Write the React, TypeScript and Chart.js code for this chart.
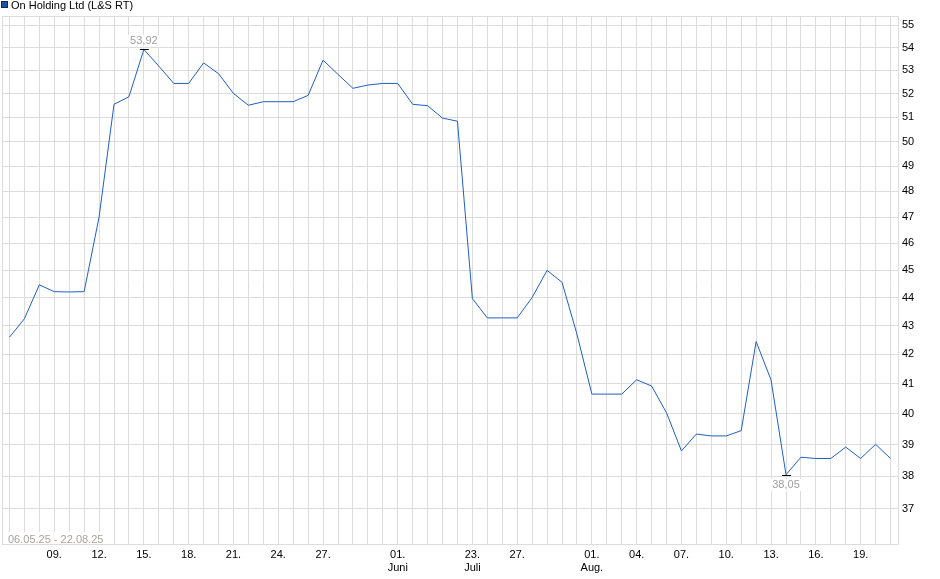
import React, { useEffect, useRef } from "react";
import { Chart, registerables } from "chart.js";

Chart.register(...registerables);

const seriesName = "On Holding Ltd (L&S RT)";
const rangeText = "06.05.25 - 22.08.25";

// one value per trading day shown on the chart
const prices = [
  42.59, 43.24, 44.46, 44.21, 44.2, 44.21, 47.0, 51.55, 51.87, 53.92,
  53.19, 52.44, 52.44, 53.33, 52.86, 52.01, 51.51, 51.66, 51.66, 51.66,
  51.93, 53.45, 52.83, 52.23, 52.37, 52.44, 52.44, 51.55, 51.49, 50.97,
  50.84, 43.96, 43.27, 43.27, 43.27, 44.0, 44.99, 44.55, 42.7, 40.65,
  40.65, 40.65, 41.13, 40.92, 40.03, 38.8, 39.34, 39.28, 39.28, 39.45,
  42.44, 41.12, 38.05, 38.6, 38.56, 38.56, 38.92, 38.56, 39.01, 38.56,
];

// x tick labels and the data index they sit on
const tickAt = [3, 6, 9, 12, 15, 18, 21, 26, 31, 34, 39, 42, 45, 48, 51, 54, 57];
const tickText: (string | string[])[] = [
  "09.", "12.", "15.", "18.", "21.", "24.", "27.", ["01.", "Juni"],
  ["23.", "Juli"], "27.", ["01.", "Aug."], "04.", "07.", "10.", "13.", "16.", "19.",
];

const yTicks = [37, 38, 39, 40, 41, 42, 43, 44, 45, 46, 47, 48, 49, 50, 51, 52, 53, 54, 55];

const FONT = "'Liberation Sans', Arial, sans-serif";
const GRID = "#dcdcdc";

const fmt = (v: number) => v.toFixed(2).replace(".", ",");

const decor = {
  id: "decor",
  beforeDatasetsDraw(chart: any) {
    const { ctx, chartArea: a } = chart;
    ctx.save();
    ctx.strokeStyle = GRID;
    ctx.lineWidth = 1;
    ctx.strokeRect(
      Math.round(a.left) + 0.5,
      Math.round(a.top) + 0.5,
      Math.round(a.right) - Math.round(a.left),
      Math.round(a.bottom) - Math.round(a.top) - 1
    );
    ctx.font = `11px ${FONT}`;
    ctx.textBaseline = "alphabetic";
    ctx.textAlign = "left";
    const w = ctx.measureText(rangeText).width;
    ctx.fillStyle = "#fff";
    ctx.fillRect(a.left + 5, a.bottom - 13, w + 4, 12);
    ctx.fillStyle = "#a9a39b";
    ctx.fillText(rangeText, a.left + 6, a.bottom - 2);
    ctx.restore();
  },
  afterDatasetsDraw(chart: any) {
    const { ctx } = chart;
    const xs = chart.scales.x;
    const ys = chart.scales.y;
    const hi = Math.max(...prices);
    const lo = Math.min(...prices);
    const marks = [
      { i: prices.indexOf(hi), v: hi, dy: -8 },
      { i: prices.indexOf(lo), v: lo, dy: 10 },
    ];
    ctx.save();
    ctx.font = `11px ${FONT}`;
    ctx.textAlign = "center";
    ctx.textBaseline = "middle";
    for (const m of marks) {
      const x = xs.getPixelForValue(m.i);
      const y = Math.round(ys.getPixelForValue(m.v));
      ctx.strokeStyle = "#000";
      ctx.lineWidth = 1;
      ctx.beginPath();
      ctx.moveTo(x - 4, y + 0.5);
      ctx.lineTo(x + 5, y + 0.5);
      ctx.stroke();
      const t = fmt(m.v);
      const w = ctx.measureText(t).width;
      ctx.fillStyle = "#fff";
      ctx.fillRect(x - w / 2 - 2, y + m.dy - 6, w + 4, 12);
      ctx.fillStyle = "#a0a0a0";
      ctx.fillText(t, x, y + m.dy);
    }
    ctx.restore();
  },
  afterDraw(chart: any) {
    const { ctx } = chart;
    ctx.save();
    ctx.fillStyle = "#1f50a6";
    ctx.fillRect(1, 1, 7, 7);
    ctx.strokeStyle = "#0b2a66";
    ctx.lineWidth = 1;
    ctx.strokeRect(1.5, 1.5, 6, 6);
    ctx.font = `11px ${FONT}`;
    ctx.fillStyle = "#000";
    ctx.textAlign = "left";
    ctx.textBaseline = "alphabetic";
    ctx.fillText(seriesName, 11, 9);
    ctx.restore();
  },
};

const App: React.FC = () => {
  const canvasRef = useRef<HTMLCanvasElement>(null);

  useEffect(() => {
    if (!canvasRef.current) return;
    const chart = new Chart(canvasRef.current, {
      type: "line",
      data: {
        labels: prices.map((_, i) => String(i)),
        datasets: [
          {
            label: seriesName,
            data: prices,
            borderColor: "#1f5fc4",
            borderWidth: 1,
            pointRadius: 0,
            tension: 0,
            fill: false,
          },
        ],
      },
      options: {
        animation: false,
        responsive: false,
        devicePixelRatio: 1,
        layout: { padding: { left: 2, top: 16, right: 0, bottom: 0 } },
        plugins: {
          legend: { display: false },
          tooltip: { enabled: false },
        },
        scales: {
          x: {
            type: "category",
            offset: true,
            grid: { offset: false, color: GRID, drawTicks: false },
            border: { display: false },
            ticks: {
              autoSkip: false,
              maxRotation: 0,
              minRotation: 0,
              padding: 3,
              color: "#000",
              font: { family: FONT, size: 11 },
              callback: (_v: any, i: number) => {
                const k = tickAt.indexOf(i);
                return k >= 0 ? tickText[k] : "";
              },
            },
            afterFit: (s: any) => {
              s.height = 34;
            },
          },
          y: {
            type: "logarithmic",
            position: "right",
            bounds: "data",
            min: 35.92,
            max: 55.42,
            grid: { color: GRID, drawTicks: false },
            border: { display: false },
            afterBuildTicks: (s: any) => {
              s.ticks = yTicks.map((v) => ({ value: v }));
            },
            ticks: {
              padding: 4,
              color: "#000",
              font: { family: FONT, size: 11 },
              callback: (v: any) => String(v),
            },
            afterFit: (s: any) => {
              s.width = 42;
            },
          },
        },
      } as any,
      plugins: [decor],
    });
    return () => chart.destroy();
  }, []);

  return (
    <div style={{ position: "fixed", left: 0, top: 0, width: 940, height: 579, background: "#fff" }}>
      <canvas ref={canvasRef} width={940} height={579} style={{ display: "block" }} />
    </div>
  );
};

export default App;
